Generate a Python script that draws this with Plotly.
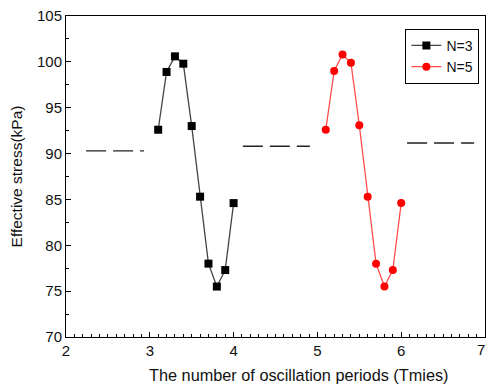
import plotly.graph_objects as go

x_n3 = [3.1, 3.2, 3.3, 3.4, 3.5, 3.6, 3.7, 3.8, 3.9, 4.0]
y_n3 = [92.6, 98.9, 100.6, 99.8, 93.0, 85.3, 78.0, 75.5, 77.3, 84.6]
x_n5 = [5.1, 5.2, 5.3, 5.4, 5.5, 5.6, 5.7, 5.8, 5.9, 6.0]
y_n5 = [92.6, 99.0, 100.8, 99.9, 93.1, 85.3, 78.0, 75.5, 77.3, 84.6]

# baseline (static) segments
base_x = [[2.24, 2.93], [4.11, 4.91], [6.07, 6.87]]
base_y = [90.3, 90.8, 91.15]

fig = go.Figure()
for bx, by in zip(base_x, base_y):
    fig.add_trace(go.Scatter(x=bx, y=[by, by], mode="lines",
                             line=dict(color="#222222", width=1.3, dash="20px,7px"),
                             showlegend=False, hoverinfo="skip"))

fig.add_trace(go.Scatter(x=x_n3, y=y_n3, mode="lines+markers", name="N=3",
                         line=dict(color="#444444", width=1.3),
                         marker=dict(symbol="square", size=8, color="black")))
fig.add_trace(go.Scatter(x=x_n5, y=y_n5, mode="lines+markers", name="N=5",
                         line=dict(color="#ff4d4d", width=1.3),
                         marker=dict(symbol="circle", size=8, color="red")))

font = "Liberation Sans, Arial, sans-serif"
fig.update_layout(
    width=487, height=387,
    margin=dict(l=66, r=2, t=16, b=50),
    paper_bgcolor="white", plot_bgcolor="white",
    font=dict(family=font, size=15, color="#111111"),
    legend=dict(x=0.81, y=0.96, xanchor="left", yanchor="top",
                bordercolor="black", borderwidth=1, bgcolor="white",
                font=dict(size=14), tracegroupgap=0, itemwidth=30),
    xaxis=dict(range=[2, 7], dtick=1, showgrid=False, zeroline=False,
               showline=True, linecolor="black", linewidth=1, mirror=True,
               ticks="inside", ticklen=5, tickcolor="black",
               minor=dict(dtick=0.1, ticks="inside", ticklen=3, tickcolor="black")),
    yaxis=dict(range=[70, 105], dtick=5, showgrid=False, zeroline=False,
               showline=True, linecolor="black", linewidth=1, mirror=True,
               ticks="inside", ticklen=5, tickcolor="black",
               minor=dict(dtick=2.5, ticks="inside", ticklen=3, tickcolor="black"),
               title=dict(text="Effective stress(kPa)", standoff=10,
                          font=dict(size=15.5))),
    annotations=[
        dict(text="The number of oscillation periods (Tmies)", x=0.555, y=-0.117,
             xref="paper", yref="paper", xanchor="center", yanchor="middle",
             showarrow=False, font=dict(size=16.3)),
        dict(text="7", x=7, y=-0.04, xref="x", yref="paper",
             xanchor="right", yanchor="middle", xshift=2, showarrow=False,
             font=dict(size=15)),
    ],
)

fig.write_html("out.html")
